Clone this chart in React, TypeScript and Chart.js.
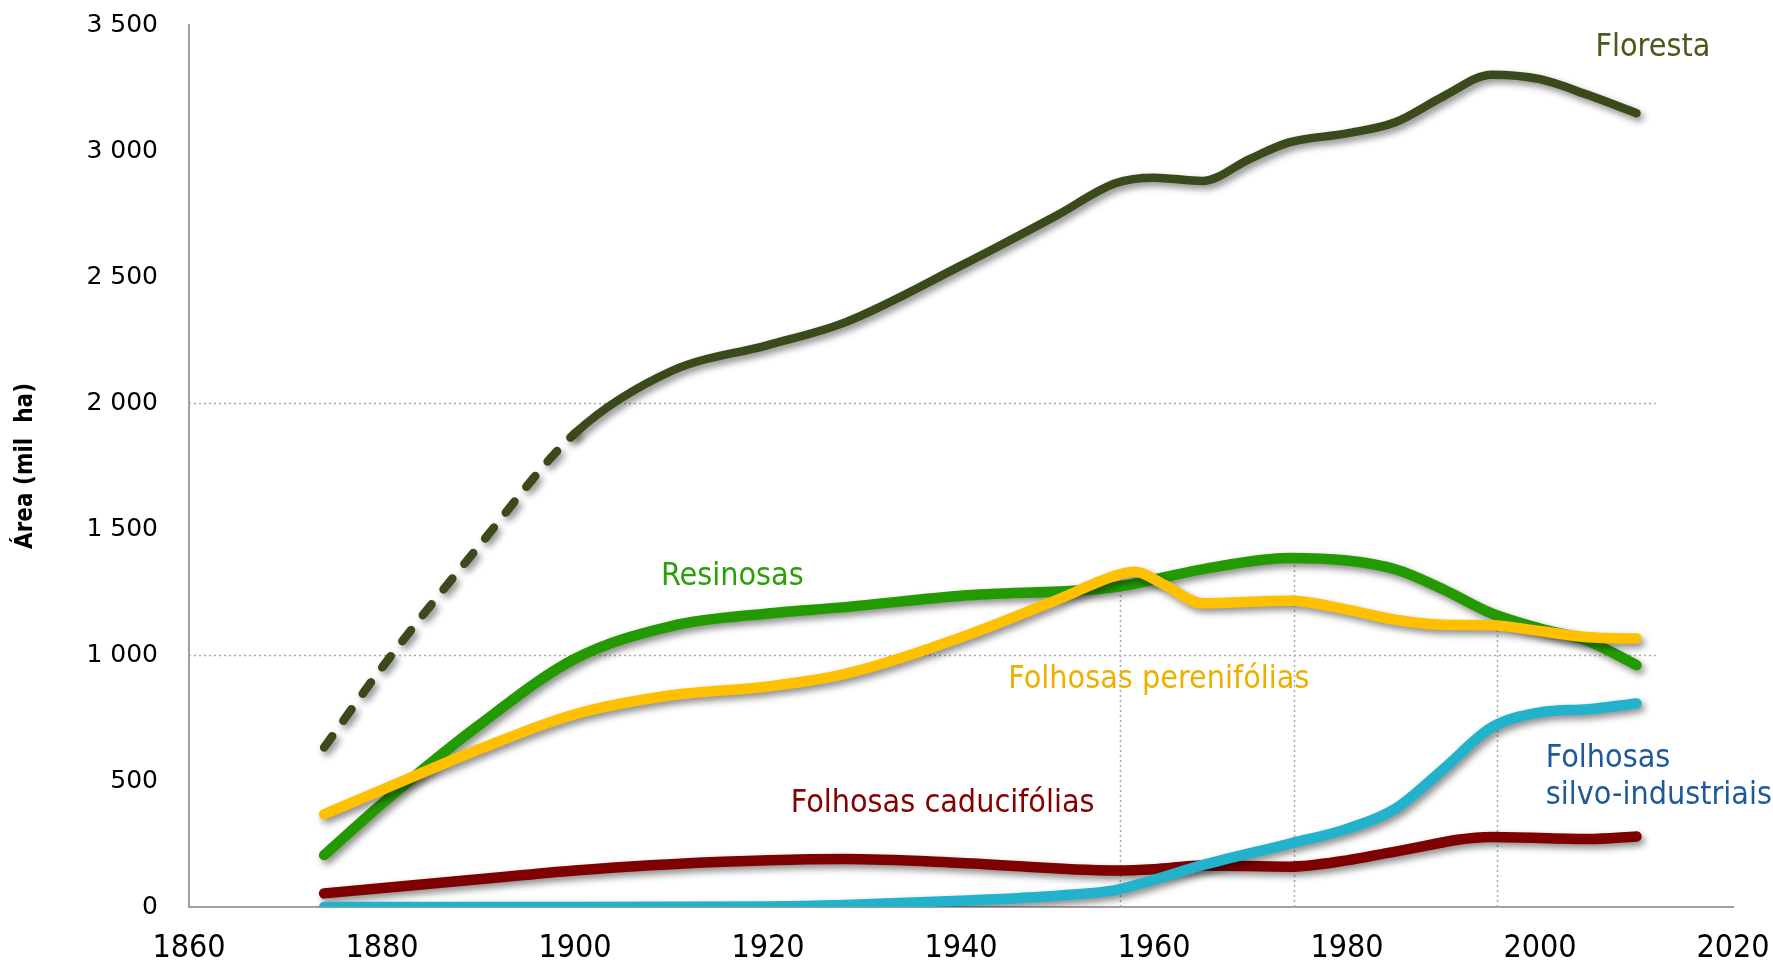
import React, { useEffect, useRef } from "react";
import { Chart, registerables } from "chart.js";

Chart.register(...registerables);

// ---------- data ----------
const florestaYears = [1874, 1880, 1890, 1900, 1910, 1920, 1928, 1940, 1950, 1956, 1960, 1965, 1970, 1974, 1980, 1985, 1990, 1995, 2000, 2005, 2010];
const florestaValues = [633, 950, 1430, 1880, 2127, 2230, 2320, 2545, 2746, 2872, 2894, 2881, 2970, 3034, 3070, 3114, 3217, 3303, 3285, 3222, 3150];

const resinosasYears = [1874, 1880, 1890, 1900, 1910, 1920, 1928, 1940, 1956, 1965, 1974, 1980, 1985, 1990, 1995, 2000, 2005, 2010];
const resinosasValues = [206, 410, 720, 985, 1115, 1165, 1190, 1235, 1270, 1340, 1385, 1375, 1340, 1260, 1165, 1105, 1055, 960];

const pereniYears = [1874, 1880, 1890, 1900, 1910, 1920, 1928, 1940, 1950, 1956, 1958, 1961, 1965, 1974, 1980, 1985, 1990, 1995, 2000, 2005, 2010];
const pereniValues = [368, 465, 625, 765, 840, 875, 925, 1070, 1220, 1315, 1330, 1280, 1205, 1215, 1180, 1140, 1120, 1118, 1095, 1070, 1065];

const caduciYears = [1874, 1890, 1900, 1910, 1928, 1940, 1956, 1960, 1965, 1974, 1980, 1985, 1995, 2005, 2010];
const caduciValues = [54, 110, 145, 170, 190, 175, 145, 150, 165, 160, 185, 220, 278, 270, 280];

const silvoYears = [1874, 1900, 1920, 1928, 1940, 1950, 1956, 1960, 1965, 1974, 1980, 1985, 1990, 1995, 2000, 2005, 2010];
const silvoValues = [0, 0, 2, 8, 25, 45, 67, 108, 166, 251, 310, 390, 548, 713, 772, 785, 808];

const dashedUntilYear = 1900;

const xTicks = [1860, 1880, 1900, 1920, 1940, 1960, 1980, 2000, 2020];
const yTicks = [0, 500, 1000, 1500, 2000, 2500, 3000, 3500];
const gridValues = [1000, 2000];
const gridEndYear = 2012;

const refYears = [1956.5, 1974.5, 1995.5];
const refTops = [1300, 1370, 1190];

const labels = [
  { text: "Floresta", x: 2011.7, y: 3411, color: "#475a1c", align: "center" },
  { text: "Resinosas", x: 1916.3, y: 1311, color: "#2a9f0a", align: "center" },
  { text: "Folhosas perenifólias", x: 1960.5, y: 902, color: "#ecb000", align: "center" },
  { text: "Folhosas caducifólias", x: 1938.1, y: 408, color: "#850000", align: "center" },
  { text: "Folhosas", x: 2000.6, y: 588, color: "#1f5a98", align: "left" },
  { text: "silvo-industriais", x: 2000.6, y: 440, color: "#1f5a98", align: "left" },
];

const toPoints = (xs: number[], ys: number[]) => xs.map((x, i) => ({ x, y: ys[i] }));

const fmt = (v: number) => {
  if (v >= 1000) {
    const t = Math.floor(v / 1000);
    const r = String(v % 1000).padStart(3, "0");
    return `${t} ${r}`;
  }
  return String(v);
};

const LABEL_FONT = "'DejaVu Sans Condensed', 'DejaVu Sans', sans-serif";

const decorPlugin = {
  id: "decor",
  beforeDatasetsDraw(chart: any) {
    const { ctx, scales } = chart;
    const xs = scales.x;
    const ys = scales.y;
    ctx.save();
    ctx.strokeStyle = "#a6a6a6";
    ctx.lineWidth = 1.5;
    ctx.setLineDash([2, 3]);
    gridValues.forEach((v) => {
      const y = Math.round(ys.getPixelForValue(v)) + 0.5;
      ctx.beginPath();
      ctx.moveTo(xs.left, y);
      ctx.lineTo(xs.getPixelForValue(gridEndYear), y);
      ctx.stroke();
    });
    refYears.forEach((yr, i) => {
      const x = Math.round(xs.getPixelForValue(yr)) + 0.5;
      ctx.beginPath();
      ctx.moveTo(x, ys.getPixelForValue(0));
      ctx.lineTo(x, ys.getPixelForValue(refTops[i]));
      ctx.stroke();
    });
    ctx.restore();
  },
  beforeDatasetDraw(chart: any) {
    const ctx = chart.ctx;
    ctx.save();
    ctx.shadowColor = "rgba(0,0,0,0.45)";
    ctx.shadowBlur = 7;
    ctx.shadowOffsetX = 3;
    ctx.shadowOffsetY = 4;
  },
  afterDatasetDraw(chart: any) {
    chart.ctx.restore();
  },
  afterDraw(chart: any) {
    const { ctx, scales } = chart;
    const xs = scales.x;
    const ys = scales.y;
    ctx.save();
    ctx.textBaseline = "middle";
    ctx.font = `32px ${LABEL_FONT}`;
    labels.forEach((l) => {
      ctx.fillStyle = l.color;
      ctx.textAlign = l.align;
      ctx.fillText(l.text, xs.getPixelForValue(l.x), ys.getPixelForValue(l.y));
    });
    // y title
    ctx.translate(26, (ys.top + ys.bottom) / 2);
    ctx.rotate(-Math.PI / 2);
    ctx.textAlign = "center";
    ctx.fillStyle = "#000";
    ctx.font = "bold 24px 'Liberation Sans Narrow', 'DejaVu Sans Condensed', sans-serif";
    ctx.fillText("Área (mil  ha)", 0, 0);
    ctx.restore();
  },
};

const lineDs = (label: string, data: any[], color: string, extra: any = {}) => ({
  label,
  data,
  borderColor: color,
  backgroundColor: color,
  borderWidth: 10.5,
  pointRadius: 0,
  fill: false,
  cubicInterpolationMode: "monotone",
  borderCapStyle: "round",
  borderJoinStyle: "round",
  ...extra,
});

export default function App() {
  const ref = useRef<HTMLCanvasElement | null>(null);
  useEffect(() => {
    document.body.style.margin = "0";
    const chart = new Chart(ref.current as HTMLCanvasElement, {
      type: "line",
      data: {
        datasets: [
          lineDs("Folhosas silvo-industriais", toPoints(silvoYears, silvoValues), "#22b2cb"),
          lineDs("Folhosas caducifólias", toPoints(caduciYears, caduciValues), "#7f0000"),
          lineDs("Folhosas perenifólias", toPoints(pereniYears, pereniValues), "#ffc000"),
          lineDs("Resinosas", toPoints(resinosasYears, resinosasValues), "#239b00"),
          lineDs("Floresta", toPoints(florestaYears, florestaValues), "#3b4a1a", {
            borderWidth: 8.5,
            segment: {
              borderDash: (c: any) => (c.p1.parsed.x <= dashedUntilYear ? [14, 19] : undefined),
            },
          }),
        ],
      },
      options: {
        animation: false,
        responsive: true,
        maintainAspectRatio: false,
        layout: { padding: { top: 25, right: 40, left: 0, bottom: 0 } },
        plugins: { legend: { display: false }, tooltip: { enabled: false } },
        scales: {
          x: {
            type: "linear",
            min: 1860,
            max: 2020,
            afterBuildTicks: (s: any) => {
              s.ticks = xTicks.map((v) => ({ value: v }));
            },
            afterFit: (s: any) => {
              s.height = 56;
              s.paddingLeft = 0;
              s.paddingRight = 0;
            },
            grid: { display: false, drawTicks: false },
            border: { display: true, color: "#a0a0a0", width: 2 },
            ticks: {
              padding: 22,
              color: "#000",
              font: { size: 32, family: "'Liberation Sans Narrow', 'DejaVu Sans Condensed', sans-serif" },
              maxRotation: 0,
              autoSkip: false,
              callback: (v: any) => String(v),
            },
          },
          y: {
            min: 0,
            max: 3500,
            afterBuildTicks: (s: any) => {
              s.ticks = yTicks.map((v) => ({ value: v }));
            },
            afterFit: (s: any) => {
              s.width = 189;
              s.paddingTop = 0;
              s.paddingBottom = 0;
            },
            grid: { display: false, drawTicks: false },
            border: { display: true, color: "#a0a0a0", width: 2 },
            ticks: {
              padding: 31,
              color: "#000",
              font: { size: 25, family: "'DejaVu Sans', sans-serif" },
              callback: (v: any) => fmt(Number(v)),
            },
          },
        },
      } as any,
      plugins: [decorPlugin],
    });
    return () => chart.destroy();
  }, []);
  return (
    <div style={{ position: "fixed", left: 0, top: 0, width: 1773, height: 963, background: "#fff" }}>
      <canvas ref={ref} />
    </div>
  );
}
